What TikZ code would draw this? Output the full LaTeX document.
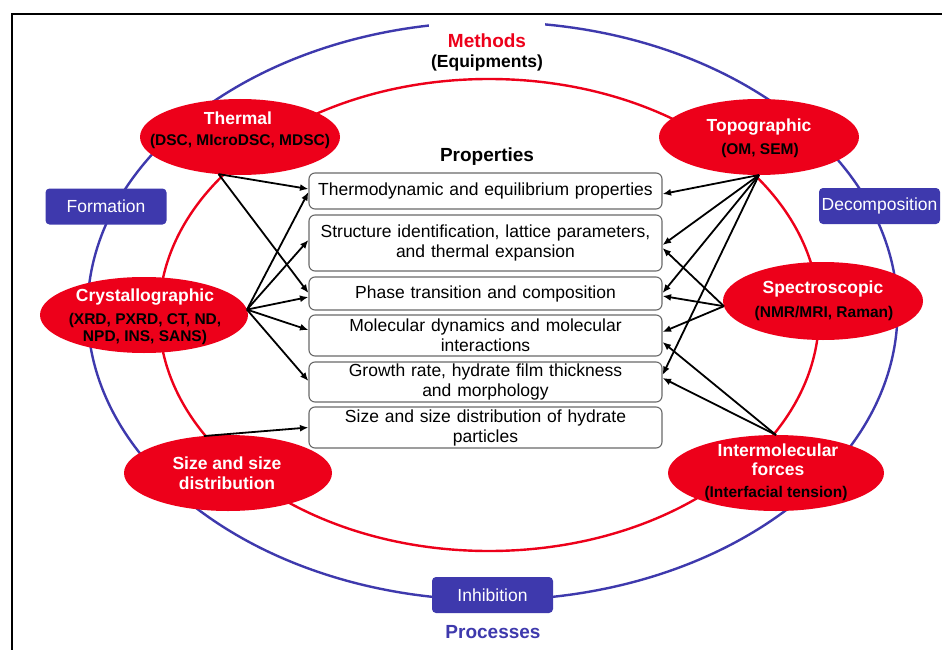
\documentclass[tikz,border=0pt]{standalone}
\usepackage{fontspec}
\setmainfont{Liberation Sans}
\usetikzlibrary{arrows.meta,shapes.geometric}
\definecolor{mred}{RGB}{237,0,26}
\definecolor{mblue}{RGB}{62,57,173}
\definecolor{bordergray}{RGB}{105,105,105}
\begin{document}
\begin{tikzpicture}[x=1pt,y=-1pt,
  redell/.style={ellipse, fill=mred, draw=none, inner sep=0pt, outer sep=0pt},
  ttl/.style={text=white, font=\fontsize{17.5}{20}\selectfont\bfseries, inner sep=0pt, align=center},
  subt/.style={text=black, font=\fontsize{15.5}{17.5}\selectfont\bfseries, inner sep=0pt, align=center},
  procbox/.style={rectangle, rounded corners=4pt, fill=mblue, text=white, font=\fontsize{17.5}{20}\selectfont, minimum width=121pt, minimum height=36pt, inner sep=0pt},
  propbox/.style={rectangle, rounded corners=6pt, draw=bordergray, line width=1.1pt, fill=white, minimum width=353pt, text width=345pt, align=center, font=\fontsize{17.5}{20}\selectfont, inner sep=0pt},
  heading/.style={font=\fontsize{19}{22}\selectfont\bfseries, inner sep=0pt},
  conn/.style={line width=1.8pt, -{Latex[length=8.5pt,width=7pt]}},
]
\useasboundingbox (0,0) rectangle (942,650);
\fill[white] (0,0) rectangle (942,650);
% frame
\draw[line width=2.2pt] (12,660) -- (12,14) -- (960,14);
% big ellipses
\draw[mblue, line width=2.4pt] (492.5,311) ellipse [x radius=405pt, y radius=289pt];
\draw[mred, line width=2.4pt] (489,315) ellipse [x radius=330pt, y radius=236pt];
% headings
\node[heading, text=mred, fill=white, minimum width=116pt, minimum height=44pt] (methods) at (487,41) {Methods};
\node[heading, font=\fontsize{17.5}{20}\selectfont\bfseries] (equip) at (487,63) {(Equipments)};
\node[heading] (props) at (487,157) {Properties};
\node[heading, text=mblue] (processes) at (493,632) {Processes};
% process boxes
\node[procbox] (formation) at (106,206.5) {Formation};
\node[procbox] (decomp) at (879.5,206) {Decomposition};
\node[procbox] (inhib) at (492.5,595) {Inhibition};
% method ellipses
\node[redell, minimum width=200pt, minimum height=76pt] (thermal) at (240,137) {};
\node[redell, minimum width=200pt, minimum height=76pt] (topo) at (759,137) {};
\node[redell, minimum width=208pt, minimum height=76pt] (cryst) at (144,315) {};
\node[redell, minimum width=200pt, minimum height=78pt] (spec) at (823,301) {};
\node[redell, minimum width=208pt, minimum height=76pt] (size) at (228,473) {};
\node[redell, minimum width=216pt, minimum height=76pt] (inter) at (776,473) {};
\node[ttl] (thermalT) at (238,118) {Thermal};
\node[subt] (thermalS) at (240,141) {(DSC, MIcroDSC, MDSC)};
\node[ttl] (topoT) at (759,127) {Topographic};
\node[subt] (topoS) at (760,150) {(OM, SEM)};
\node[ttl] (crystT) at (145,297) {Crystallographic};
\node[subt, font=\fontsize{15.5}{17}\selectfont\bfseries] (crystS) at (145,328.5) {(XRD, PXRD, CT, ND,\\NPD, INS, SANS)};
\node[ttl] (specT) at (823,289) {Spectroscopic};
\node[subt] (specS) at (824,313) {(NMR/MRI, Raman)};
\node[ttl] (sizeT) at (227,473) {Size and size\\distribution};
\node[ttl, font=\fontsize{17.5}{19}\selectfont\bfseries] (interT) at (778,459.5) {Intermolecular\\forces};
\node[subt] (interS) at (776,493) {(Interfacial tension)};
% property boxes
\node[propbox, minimum height=36pt] (b1) at (485.5,191) {Thermodynamic and equilibrium properties};
\node[propbox, minimum height=56pt] (b2) at (485.5,243) {Structure identification, lattice parameters,\\and thermal expansion};
\node[propbox, minimum height=33pt] (b3) at (485.5,293.5) {Phase transition and composition};
\node[propbox, minimum height=41pt] (b4) at (485.5,335.5) {Molecular dynamics and molecular\\interactions};
\node[propbox, minimum height=40pt] (b5) at (485.5,382) {Growth rate, hydrate film thickness\\and morphology};
\node[propbox, minimum height=41pt] (b6) at (485.5,427.5) {Size and size distribution of hydrate\\particles};
% left connectors
\draw[conn] (thermal.240) -- ([yshift=2pt]b1.west);
\draw[conn] (thermal.240) -- ([yshift=0.5pt]b3.west);
\draw[conn] (cryst.3) -- ([yshift=-1pt]b1.west);
\draw[conn] (cryst.3) -- ([yshift=3pt]b2.west);
\draw[conn] (cryst.3) -- ([yshift=-3.5pt]b3.west);
\draw[conn] (cryst.3) -- ([yshift=5.5pt]b4.west);
\draw[conn] (cryst.3) -- ([yshift=1pt]b5.west);
\draw[conn] (size.123) -- (b6.west);
% right connectors
\draw[conn] (topo.south) -- ([yshift=-3pt]b1.east);
\draw[conn] (topo.south) -- ([yshift=-2pt]b2.east);
\draw[conn] (topo.south) -- ([yshift=0.5pt]b3.east);
\draw[conn] (topo.south) -- ([yshift=7pt]b5.east);
\draw[conn] (spec.183) -- ([yshift=-5pt]b2.east);
\draw[conn] (spec.183) -- ([yshift=-2.5pt]b3.east);
\draw[conn] (spec.183) -- ([yshift=3.5pt]b4.east);
\draw[conn] (inter.north) -- ([yshift=-6.5pt]b4.east);
\draw[conn] (inter.north) -- ([yshift=4pt]b5.east);
\end{tikzpicture}
\end{document}
